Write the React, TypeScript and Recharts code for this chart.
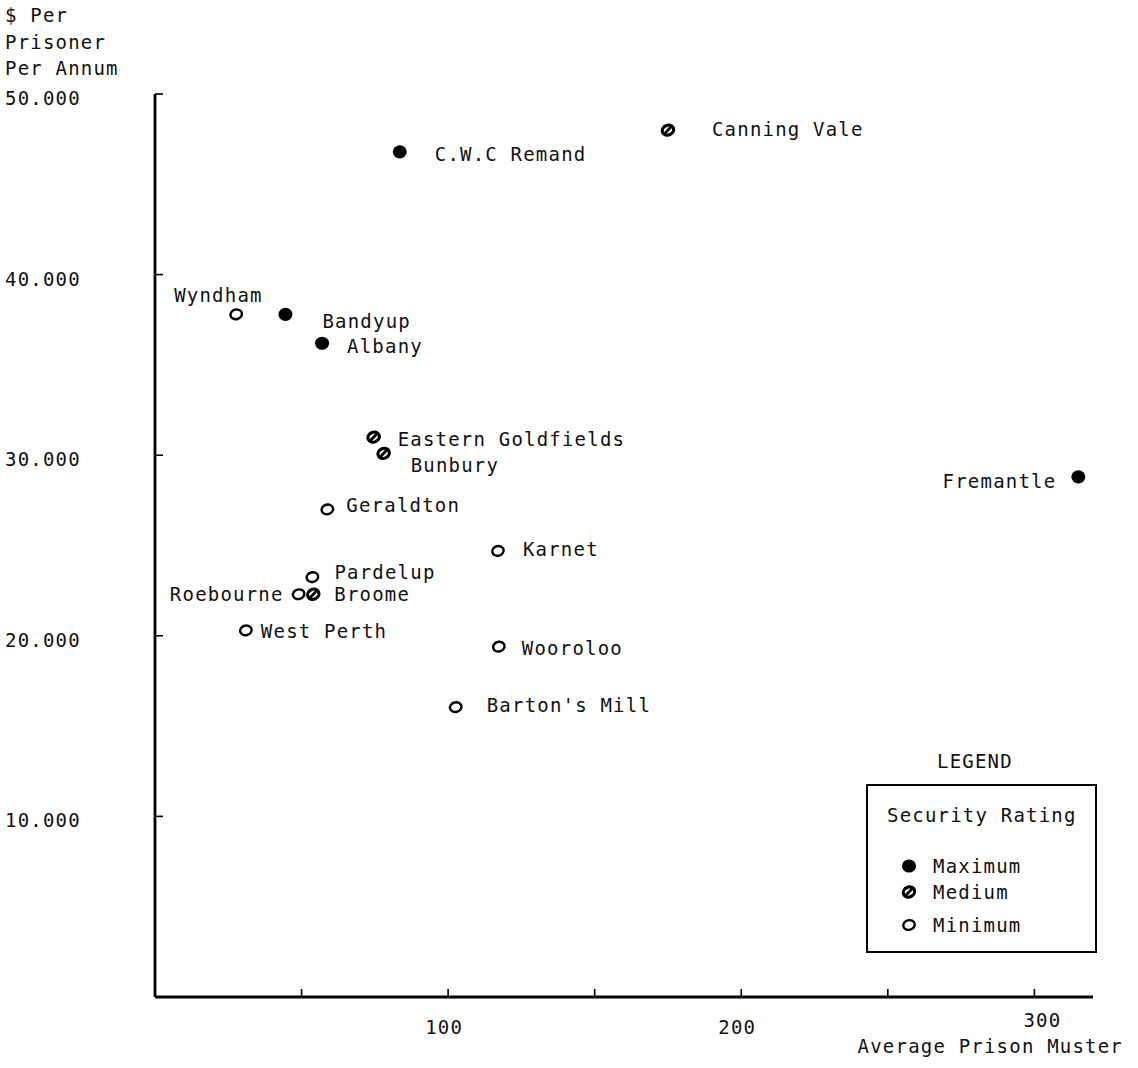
import React from 'react';
import { ScatterChart, Scatter, XAxis, YAxis, Legend, Label } from 'recharts';

// values
const prisons = [
  'Canning Vale',
  'C.W.C Remand',
  'Wyndham',
  'Bandyup',
  'Albany',
  'Eastern Goldfields',
  'Bunbury',
  'Fremantle',
  'Geraldton',
  'Karnet',
  'Pardelup',
  'Roebourne',
  'Broome',
  'West Perth',
  'Wooroloo',
  "Barton's Mill",
];
const muster = [175, 83.5, 27.7, 44.5, 57, 74.6, 78, 315, 58.8, 117, 53.7, 49, 54, 31, 117.3, 102.6];
const costPerPrisoner = [
  48000, 46800, 37800, 37800, 36200, 31000, 30100, 28800, 27000, 24700, 23250, 22300, 22300, 20300,
  19400, 16050,
];
const securityRating = [
  'Medium',
  'Maximum',
  'Minimum',
  'Maximum',
  'Maximum',
  'Medium',
  'Medium',
  'Maximum',
  'Minimum',
  'Minimum',
  'Minimum',
  'Minimum',
  'Medium',
  'Minimum',
  'Minimum',
  'Minimum',
];
const ratings = ['Maximum', 'Medium', 'Minimum'];
const xTicks = [50, 100, 150, 200, 250, 300];
const yTicks = [10000, 20000, 30000, 40000, 50000];

// where each name sits relative to its marker
const labelPlacement: Record<string, [number, number, 'start' | 'end']> = {
  'Canning Vale': [44, -1, 'start'],
  'C.W.C Remand': [35, 2, 'start'],
  Wyndham: [-62, -19, 'start'],
  Bandyup: [37, 7, 'start'],
  Albany: [25, 3, 'start'],
  'Eastern Goldfields': [24, 2, 'start'],
  Bunbury: [27, 12, 'start'],
  Fremantle: [-22, 4, 'end'],
  Geraldton: [19, -4, 'start'],
  Karnet: [25, -2, 'start'],
  Pardelup: [22, -5, 'start'],
  Roebourne: [-15, 0, 'end'],
  Broome: [21, 0, 'start'],
  'West Perth': [15, 1, 'start'],
  Wooroloo: [23, 1, 'start'],
  "Barton's Mill": [31, -2, 'start'],
};

const rows = prisons.map((name, i) => ({
  name,
  x: muster[i],
  y: costPerPrisoner[i],
  rating: securityRating[i],
}));

const FONT = '"DejaVu Sans Mono", "Liberation Mono", monospace';
const textStyle = { fontFamily: FONT, fontSize: 19, letterSpacing: 1.2, fill: '#111' };

const Marker = ({ kind, cx, cy }: { kind: string; cx: number; cy: number }) => {
  if (kind === 'Maximum') {
    return <ellipse cx={cx} cy={cy} rx={7} ry={6.6} fill="#000" />;
  }
  if (kind === 'Medium') {
    return (
      <g transform={`rotate(-25 ${cx} ${cy})`}>
        <ellipse cx={cx} cy={cy} rx={5.8} ry={4.9} fill="#fff" stroke="#000" strokeWidth={3.2} />
        <line x1={cx - 5} y1={cy + 2} x2={cx + 5} y2={cy - 2} stroke="#000" strokeWidth={2.8} />
      </g>
    );
  }
  return (
    <ellipse
      cx={cx}
      cy={cy}
      rx={5.8}
      ry={4.8}
      transform={`rotate(-15 ${cx} ${cy})`}
      fill="#fff"
      stroke="#000"
      strokeWidth={2.4}
    />
  );
};

const renderPoint = (props: any) => {
  const { cx, cy, payload } = props;
  const [dx, dy, anchor] = labelPlacement[payload.name];
  return (
    <g>
      <Marker kind={payload.rating} cx={cx} cy={cy} />
      <text x={cx + dx} y={cy + dy} textAnchor={anchor} dominantBaseline="central" style={textStyle}>
        {payload.name}
      </text>
    </g>
  );
};

const XTick = ({ x, y, payload }: any) => {
  const last = payload.value === 300; // sits a little higher, right above the title
  return (
    <g>
      <line x1={x} y1={y} x2={x} y2={y - 8} stroke="#000" strokeWidth={1.6} />
      {payload.value % 100 === 0 && (
        <text
          x={last ? x + 8 : x - 4}
          y={last ? y + 23 : y + 30}
          textAnchor="middle"
          dominantBaseline="central"
          style={textStyle}
        >
          {payload.value}
        </text>
      )}
    </g>
  );
};

const YTick = ({ x, y, payload }: any) => (
  <g>
    <line x1={x} y1={y} x2={x + 8} y2={y} stroke="#000" strokeWidth={1.6} />
    <text x={5} y={y + 4} textAnchor="start" dominantBaseline="central" style={textStyle}>
      {`${payload.value / 1000}.000`}
    </text>
  </g>
);

const YTitle = () => (
  <text style={textStyle} dominantBaseline="central">
    <tspan x={5} y={15}>$ Per</tspan>
    <tspan x={5} y={42}>Prisoner</tspan>
    <tspan x={5} y={68}>Per Annum</tspan>
  </text>
);

const XTitle = ({ viewBox }: any) => (
  <text
    x={viewBox.x + viewBox.width + 30}
    y={viewBox.y + 49}
    textAnchor="end"
    dominantBaseline="central"
    style={textStyle}
  >
    Average Prison Muster
  </text>
);

const LegendBox = ({ payload }: any) => (
  <div style={{ width: 231, fontFamily: FONT, fontSize: 19, letterSpacing: 1.2, color: '#111' }}>
    <div style={{ height: 22, lineHeight: '22px', paddingLeft: 71 }}>LEGEND</div>
    <div style={{ marginTop: 12, border: '2px solid #000', padding: '17px 0 14px 0' }}>
      <div style={{ height: 24, lineHeight: '24px', paddingLeft: 19 }}>Security Rating</div>
      {(payload || []).map((entry: any, i: number) => (
        <div
          key={entry.value}
          style={{
            display: 'flex',
            alignItems: 'center',
            height: 24,
            marginTop: [27, 2, 9][i],
          }}
        >
          <svg width={24} height={24} style={{ marginLeft: 29 }}>
            <Marker kind={entry.value} cx={12} cy={12} />
          </svg>
          <span style={{ marginLeft: 12, lineHeight: '24px' }}>{entry.value}</span>
        </div>
      ))}
    </div>
  </div>
);

export default function App() {
  return (
    <div style={{ position: 'absolute', left: 0, top: 0, background: '#fff' }}>
      <ScatterChart width={1138} height={1068} margin={{ top: 94, right: 45, bottom: 0, left: 0 }}>
        <XAxis
          type="number"
          dataKey="x"
          domain={[0, 320]}
          ticks={xTicks}
          height={71}
          tickSize={0}
          tickMargin={0}
          tickLine={false}
          tick={<XTick />}
          axisLine={{ stroke: '#000', strokeWidth: 2.8 }}
        >
          <Label content={<XTitle />} />
        </XAxis>
        <YAxis
          type="number"
          dataKey="y"
          domain={[0, 50000]}
          ticks={yTicks}
          width={155}
          tickSize={0}
          tickMargin={0}
          tickLine={false}
          tick={<YTick />}
          axisLine={{ stroke: '#000', strokeWidth: 2.8 }}
        >
          <Label content={<YTitle />} />
        </YAxis>
        <Legend
          layout="vertical"
          align="center"
          verticalAlign="middle"
          content={<LegendBox />}
          wrapperStyle={{ left: 866, top: 750, width: 231 }}
        />
        {ratings.map((r) => (
          <Scatter
            key={r}
            name={r}
            data={rows.filter((d) => d.rating === r)}
            shape={renderPoint}
            isAnimationActive={false}
          />
        ))}
      </ScatterChart>
    </div>
  );
}
